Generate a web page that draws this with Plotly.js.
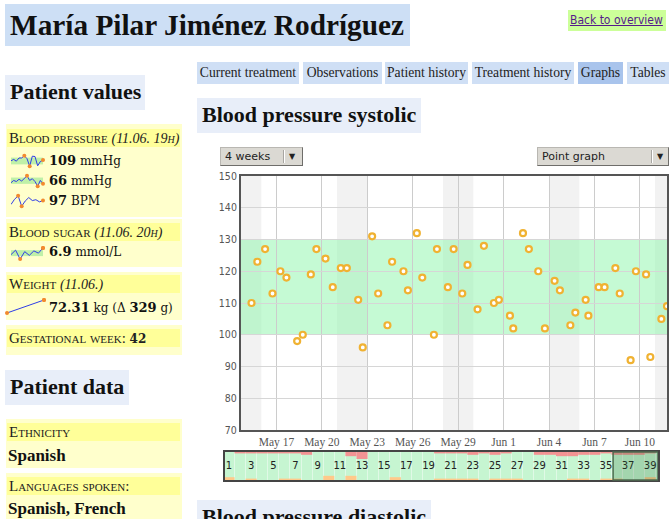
<!DOCTYPE html>
<html><head><meta charset="utf-8">
<script src="https://cdn.plot.ly/plotly-3.0.1.min.js"></script>
<style>
html,body{margin:0;padding:0;background:#fff;width:669px;height:519px;overflow:hidden;}
body{font-family:"Liberation Serif",serif;color:#111;position:relative;}
.a{position:absolute;white-space:nowrap;}
.h1{left:5px;top:4px;width:405px;height:42px;background:#cddff5;}
.h1 span{position:absolute;left:5px;top:3px;font-size:29.3px;font-weight:bold;line-height:36px;}
.back{left:568px;top:10px;width:98px;height:21px;background:#ccff99;}
.back a{position:absolute;left:2px;top:3px;font-family:"DejaVu Sans Condensed","DejaVu Sans",sans-serif;font-size:12px;color:#551a8b;text-decoration:underline;}
.tab{top:62px;height:22px;background:#cfdff5;font-size:13.6px;line-height:22px;text-align:center;color:#222;}
.tab.on{background:#a9c4ec;}
.h2{background:#e8eef9;font-size:22px;font-weight:bold;line-height:34px;padding-left:5px;box-sizing:border-box;}
.panel{left:6px;width:176px;background:#ffffcc;}
.ph{left:7px;width:173px;height:18px;background:#ffff99;font-size:15px;font-variant:small-caps;line-height:18px;padding-left:2px;box-sizing:border-box;color:#222;}
.ph i{font-size:14px;}
.val{left:49px;font-family:"DejaVu Serif",serif;font-size:12px;line-height:16px;color:#111;}
.val b{font-size:13px;}
.dd{height:17px;background:#dbd9d3;border:1px solid #b9b7b2;border-right-color:#6e6d6a;border-bottom-color:#6e6d6a;font-family:"DejaVu Sans",sans-serif;font-size:11px;line-height:17px;color:#222;box-sizing:content-box;}
.dd .t{position:absolute;left:4px;top:0;}
.dd .sep{position:absolute;top:2px;width:1px;height:13px;background:#a8a6a2;border-right:1px solid #fff;}
.dd .ar{position:absolute;top:0;font-size:8px;}
.spk{position:absolute;}
</style></head>
<body>
<div class="a h1"><span>María Pilar Jiménez Rodríguez</span></div>
<div class="a back"><a>Back to overview</a></div>

<div class="a tab" style="left:197px;width:102px;">Current treatment</div>
<div class="a tab" style="left:303px;width:79px;">Observations</div>
<div class="a tab" style="left:385px;width:83px;">Patient history</div>
<div class="a tab" style="left:472px;width:102px;">Treatment history</div>
<div class="a tab on" style="left:578px;width:45px;">Graphs</div>
<div class="a tab" style="left:627px;width:42px;">Tables</div>

<div class="a h2" style="left:197px;top:98px;width:224px;height:35px;">Blood pressure systolic</div>
<div class="a h2" style="left:197px;top:500px;width:234px;height:35px;">Blood pressure diastolic</div>

<div class="a h2" style="left:5px;top:75px;width:140px;height:35px;">Patient values</div>

<div class="a panel" style="top:124px;height:93px;"></div>
<div class="a ph" style="top:129px;">Blood pressure <i>(11.06. 19h)</i></div>
<div class="a val" style="top:153px;"><b>109</b> mmHg</div>
<div class="a val" style="top:173px;"><b>66</b> mmHg</div>
<div class="a val" style="top:193px;"><b>97</b> BPM</div>

<div class="a panel" style="top:219px;height:48px;"></div>
<div class="a ph" style="top:223px;">Blood sugar <i>(11.06. 20h)</i></div>
<div class="a val" style="top:244px;"><b>6.9</b> mmol/L</div>

<div class="a panel" style="top:272px;height:48px;"></div>
<div class="a ph" style="top:275px;">Weight <i>(11.06.)</i></div>
<div class="a val" style="top:300px;"><b>72.31</b> kg (Δ <b>329</b> g)</div>

<div class="a panel" style="top:325px;height:30px;"></div>
<div class="a ph" style="top:329px;">Gestational week: <b style="font-variant:normal;font-family:'DejaVu Serif';font-size:12px;">42</b></div>

<div class="a h2" style="left:5px;top:370px;width:124px;height:35px;">Patient data</div>

<div class="a panel" style="top:419px;height:49px;"></div>
<div class="a ph" style="top:423px;">Ethnicity</div>
<div class="a" style="left:8px;top:446px;font-size:17px;font-weight:bold;line-height:20px;">Spanish</div>

<div class="a panel" style="top:473px;height:50px;"></div>
<div class="a ph" style="top:477px;">Languages spoken:</div>
<div class="a" style="left:8px;top:499px;font-size:17px;font-weight:bold;line-height:20px;">Spanish, French</div>

<div class="a dd" style="left:220px;top:147px;width:81px;"><span class="t">4 weeks</span><span class="sep" style="left:62px;"></span><span class="ar" style="left:68px;">▼</span></div>
<div class="a dd" style="left:537px;top:147px;width:130px;"><span class="t">Point graph</span><span class="sep" style="left:113px;"></span><span class="ar" style="left:119px;">▼</span></div>

<div id="main" class="a" style="left:210px;top:160px;width:459px;height:292px;"></div>
<div id="nav" class="a" style="left:222px;top:449px;width:440px;height:35px;"></div>

<div id="spSys" class="spk" style="left:9px;top:153px;width:36px;height:16px;"></div>
<div id="spDia" class="spk" style="left:9px;top:173px;width:36px;height:16px;"></div>
<div id="spPul" class="spk" style="left:9px;top:193px;width:36px;height:16px;"></div>
<div id="spSug" class="spk" style="left:9px;top:245px;width:36px;height:17px;"></div>
<div id="spWgt" class="spk" style="left:5px;top:297px;width:41px;height:19px;"></div>

<script>
// ---------- data ----------
const readingTimes = [
 '2011-05-15 08:30','2011-05-15 17:45','2011-05-16 06:00','2011-05-16 17:45',
 '2011-05-17 06:15','2011-05-17 15:50','2011-05-18 08:50','2011-05-18 17:45',
 '2011-05-19 06:30','2011-05-19 15:20','2011-05-20 05:45','2011-05-20 17:15',
 '2011-05-21 06:00','2011-05-21 15:35','2011-05-22 09:35','2011-05-22 16:50',
 '2011-05-23 07:40','2011-05-23 17:15','2011-05-24 07:55','2011-05-24 15:20',
 '2011-05-25 09:20','2011-05-25 16:20','2011-05-26 06:30','2011-05-26 15:10',
 '2011-05-27 09:35','2011-05-27 14:25','2011-05-28 07:40','2011-05-28 16:50',
 '2011-05-29 06:30','2011-05-29 14:50','2011-05-30 06:45','2011-05-30 16:50',
 '2011-05-31 08:40','2011-05-31 16:35','2011-06-01 10:05','2011-06-01 15:20',
 '2011-06-02 06:45','2011-06-02 16:05','2011-06-03 06:58','2011-06-03 17:30',
 '2011-06-04 08:50','2011-06-04 17:15','2011-06-05 09:50','2011-06-05 17:45',
 '2011-06-06 10:05','2011-06-06 14:25','2011-06-07 06:45','2011-06-07 16:05',
 '2011-06-08 09:10','2011-06-08 16:05','2011-06-09 09:20','2011-06-09 17:45',
 '2011-06-10 09:50','2011-06-10 16:35','2011-06-11 10:05','2011-06-11 19:00'];
const systolic = [
 110,123,127,113, 120,118,98,100, 119,127,124,115, 121,121,111,96,
 131,113,103,123, 120,114,132,118, 100,127,115,127, 113,122,108,128,
 110,111,106,102, 132,127,120,102, 117,114,103,107, 111,106,115,115,
 121,113,92,120, 119,93,105,109];
const normalLow = 100, normalHigh = 130;
const yTicks = [70,80,90,100,110,120,130,140,150];
const viewStart = '2011-05-14 15:50', viewEnd = '2011-06-11 19:00';

// navigator: gestational weeks, readings above / below normal range per week
const weeks = [1,2,3,4,5,6,7,8,9,10,11,12,13,14,15,16,17,18,19,20,21,22,23,24,25,26,27,28,29,30,31,32,33,34,35,36,37,38,39];
const aboveCounts = [0,1,1,1,1,1,1,2,0,0,0,3,5,0,0,0,0,0,0,1,1,1,2,1,2,1,0,0,2,2,3,3,2,2,1,2,2,2,1];
const belowCounts = [2,0,1,0,0,1,1,0,0,3,0,3,0,0,0,2,0,0,0,1,1,1,1,0,1,1,1,0,0,0,0,1,1,0,1,1,0,0,2];
const weekLabels = ['1','3','5','7','9','11','13','15','17','19','21','23','25','27','29','31','33','35','37','39'];
const selectedWeeks = [35.65, 39.7];

// sparklines
const sparkSys = [107,111,106,115,115,121,113,92,120,119,93,105,109];
const sparkSysBand = [97,116];
const sparkDia = [68,72,70,74,71,76,80,72,75,70,62,72,66];
const sparkDiaBand = [66,77];
const sparkPulse = [88,100,108,84,96,104,97,99,94,97];
const sparkSugar = [6.0,6.6,5.4,6.4,5.9,6.5,6.2,6.9];
const sparkSugarBand = [5.8,6.6];
const sparkWeight = [71.98,72.31];

// ---------- main chart ----------
const DAY = 86400000;
function fmt(ms){const d=new Date(ms);const p=n=>String(n).padStart(2,'0');
 return d.getUTCFullYear()+'-'+p(d.getUTCMonth()+1)+'-'+p(d.getUTCDate());}
const shapes = [];
let t0 = Date.UTC(2011,4,14), tEnd = Date.UTC(2011,5,13);
for(let t=t0; t<tEnd; t+=DAY){
  const wd = new Date(t).getUTCDay();
  if(wd===6){ shapes.push({type:'rect',layer:'below',xref:'x',yref:'paper',x0:fmt(t),x1:fmt(t+2*DAY),y0:0,y1:1,
     fillcolor:'#f2f2f2',line:{width:0}}); }
}
shapes.push({type:'rect',layer:'below',xref:'paper',yref:'y',x0:0,x1:1,y0:normalLow,y1:normalHigh,
  fillcolor:'rgba(140,245,170,0.5)',line:{width:0}});

Plotly.newPlot('main',[{
  type:'scatter',mode:'markers',x:readingTimes,y:systolic,
  marker:{symbol:'circle',size:6,color:'#ffffff',line:{color:'#f0b232',width:2.2}},
  hoverinfo:'skip'
}],{
  width:459,height:292,margin:{l:31,r:2,t:16,b:22},
  paper_bgcolor:'rgba(0,0,0,0)',plot_bgcolor:'#ffffff',showlegend:false,
  xaxis:{type:'date',range:[viewStart,viewEnd],tick0:'2011-05-17',dtick:3*DAY,tickformat:'%b %-d',
    showgrid:true,gridcolor:'#cccccc',gridwidth:1,zeroline:false,ticks:'',
    showline:true,mirror:true,linecolor:'#555555',linewidth:2,
    tickfont:{family:'Liberation Serif',size:11.5,color:'#555555'}},
  yaxis:{range:[70,150],tickvals:yTicks,showgrid:true,gridcolor:'#d6d6d6',gridwidth:1,zeroline:false,ticks:'',
    showline:true,mirror:true,linecolor:'#555555',linewidth:2,
    tickfont:{family:'DejaVu Sans Condensed',size:10.5,color:'#555555'}},
  shapes:shapes
},{staticPlot:true,displayModeBar:false});

// ---------- navigator ----------
Plotly.newPlot('nav',[
 {type:'bar',x:weeks,y:aboveCounts.map(v=>-v),base:10,width:1,marker:{color:'#f39393',line:{width:0}},hoverinfo:'skip'},
 {type:'bar',x:weeks,y:belowCounts,base:-10,width:1,marker:{color:'#ffc98a',line:{width:0}},hoverinfo:'skip'},
 {type:'scatter',mode:'text',x:weekLabels.map(Number),y:weekLabels.map(()=>0),text:weekLabels,
  textfont:{family:'DejaVu Sans',size:10,color:'#222222'},hoverinfo:'skip'}
],{
  width:440,height:35,margin:{l:3,r:4,t:3,b:4},barmode:'overlay',
  paper_bgcolor:'rgba(0,0,0,0)',plot_bgcolor:'#c6f5d1',showlegend:false,
  xaxis:{range:[0.64,39.7],tick0:0.5,dtick:1,showgrid:true,gridcolor:'rgba(255,255,255,0.45)',
    showticklabels:false,ticks:'',zeroline:false,showline:true,mirror:true,linecolor:'#444444',linewidth:2},
  yaxis:{range:[-10,10],showgrid:false,showticklabels:false,ticks:'',zeroline:false,
    showline:true,mirror:true,linecolor:'#444444',linewidth:2},
  shapes:[{type:'rect',xref:'x',yref:'paper',x0:selectedWeeks[0],x1:selectedWeeks[1],y0:0,y1:1,
    fillcolor:'rgba(40,100,50,0.22)',line:{color:'#4d6b4f',width:1.5}}]
},{staticPlot:true,displayModeBar:false});

// ---------- sparklines ----------
function spark(id,vals,band,w,h){
  const xs = vals.map((v,i)=>i);
  let mx=0,mn=0; vals.forEach((v,i)=>{if(v>vals[mx])mx=i; if(v<vals[mn])mn=i;});
  const dots=[mx,mn,vals.length-1];
  const lo=Math.min(...vals), hi=Math.max(...vals), pad=(hi-lo)*0.08;
  const sh = band? [{type:'rect',layer:'below',xref:'paper',yref:'y',x0:0,x1:1,y0:band[0],y1:band[1],
      fillcolor:'#bff0a8',line:{width:0}}] : [];
  Plotly.newPlot(id,[
    {type:'scatter',mode:'lines',x:xs,y:vals,line:{color:'#2f3ee6',width:1},hoverinfo:'skip'},
    {type:'scatter',mode:'markers',x:dots,y:dots.map(i=>vals[i]),marker:{color:'#f28a2e',size:4},hoverinfo:'skip',cliponaxis:false}
  ],{width:w,height:h,margin:{l:2,r:2,t:2,b:2},paper_bgcolor:'rgba(0,0,0,0)',plot_bgcolor:'rgba(0,0,0,0)',showlegend:false,
     xaxis:{visible:false,range:[0,vals.length-1]},yaxis:{visible:false,range:[lo-pad,hi+pad]},shapes:sh},
   {staticPlot:true,displayModeBar:false});
}
spark('spSys',sparkSys,sparkSysBand,36,16);
spark('spDia',sparkDia,sparkDiaBand,36,16);
spark('spPul',sparkPulse,null,36,16);
spark('spSug',sparkSugar,sparkSugarBand,36,17);
spark('spWgt',sparkWeight,null,41,19);
</script>
</body></html>
